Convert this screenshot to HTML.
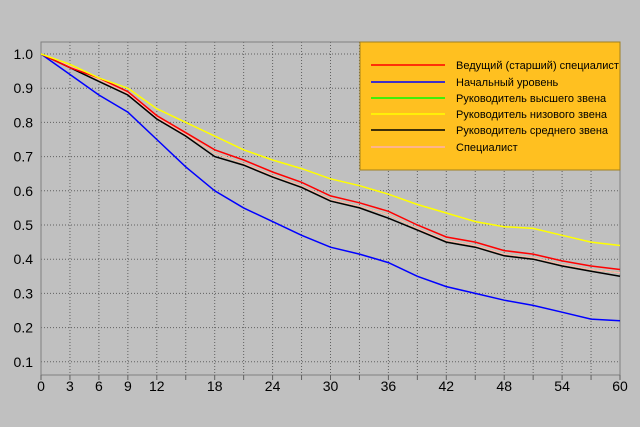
<!DOCTYPE html>
<html><head><meta charset="utf-8"><style>
body{margin:0;background:#c0c0c0;}
svg{display:block;font-family:"Liberation Sans",sans-serif;}
</style></head><body>
<svg id="chart" width="640" height="427" viewBox="0 0 640 427">
<rect x="0" y="0" width="640" height="427" fill="#c0c0c0"/>
<g id="grid"></g>
<g id="axes"></g>
<g id="series"></g>
<g id="legend"></g>
</svg>
<script>
const months=[0,3,6,9,12,15,18,21,24,27,30,33,36,39,42,45,48,51,54,57,60];
const xTickLabels=[0,3,6,9,12,18,24,30,36,42,48,54,60];
const yTickLabels=[0.1,0.2,0.3,0.4,0.5,0.6,0.7,0.8,0.9,1.0];
const seriesNames=["Ведущий (старший) специалист","Начальный уровень","Руководитель высшего звена","Руководитель низового звена","Руководитель среднего звена","Специалист"];
const seriesColors=["#ff0000","#0000ff","#00ff00","#ffff00","#000000","#ffb0b0"];
const senior=[1,0.96,0.93,0.89,0.82,0.77,0.72,0.69,0.655,0.625,0.585,0.565,0.54,0.5,0.465,0.45,0.425,0.415,0.395,0.38,0.37];
const entry=[1,0.94,0.88,0.83,0.75,0.67,0.6,0.55,0.51,0.47,0.435,0.415,0.39,0.35,0.32,0.3,0.28,0.265,0.245,0.225,0.22];
const topMgr=[1,0.965,0.925,0.885,0.815,0.765,0.71,0.68,0.645,0.615,0.575,0.555,0.53,0.49,0.455,0.44,0.415,0.405,0.385,0.37,0.36];
const lowMgr=[1,0.97,0.93,0.9,0.84,0.8,0.76,0.72,0.69,0.665,0.635,0.615,0.59,0.56,0.535,0.51,0.495,0.49,0.47,0.45,0.44];
const middleMgr=[1,0.96,0.92,0.88,0.81,0.76,0.7,0.675,0.64,0.61,0.57,0.55,0.52,0.485,0.45,0.435,0.41,0.4,0.38,0.365,0.35];
const specialist=[1,0.965,0.925,0.885,0.815,0.765,0.71,0.68,0.645,0.615,0.575,0.555,0.53,0.49,0.455,0.44,0.415,0.405,0.385,0.37,0.36];
const seriesData=[senior,entry,topMgr,lowMgr,middleMgr,specialist];
const drawOrder=[2,1,5,4,0,3];

const NS="http://www.w3.org/2000/svg";
const X0=41,X1=620,Y0=42,Y1=375;
const xs=m=>X0+(m/60)*(X1-X0);
const ys=v=>54+(1-v)*342;
function mk(tag,attrs,parent){const e=document.createElementNS(NS,tag);for(const k in attrs)e.setAttribute(k,attrs[k]);parent.appendChild(e);return e;}
const grid=document.getElementById('grid'),axes=document.getElementById('axes'),ser=document.getElementById('series'),leg=document.getElementById('legend');
for(let m=3;m<=57;m+=3){const l=mk('line',{x1:xs(m),x2:xs(m),y1:Y0,y2:Y1,stroke:'#606060','stroke-dasharray':'1,2','stroke-width':1},grid);

}
yTickLabels.forEach(v=>{const l=mk('line',{x1:X0,x2:X1,y1:ys(v),y2:ys(v),stroke:'#606060','stroke-dasharray':'1,2','stroke-width':1},grid);


const t=mk('text',{x:X0-8,y:ys(v)+5,'text-anchor':'end','font-size':14,fill:'#000'},axes);t.textContent=v.toFixed(1);

});
const b=mk('path',{d:`M${X0},${Y0}H${X1}V${Y1}H${X0}Z`,fill:'none',stroke:'#808080','stroke-width':1},axes);


for(let m=0;m<=60;m+=3){const l=mk('line',{x1:xs(m),x2:xs(m),y1:Y1,y2:Y1+5,stroke:'#606060'},axes);

}
xTickLabels.forEach(m=>{const t=mk('text',{x:xs(m),y:391,'text-anchor':'middle','font-size':14,fill:'#000'},axes);t.textContent=m;

});
drawOrder.forEach(i=>{let d='';seriesData[i].forEach((v,k)=>{d+=(k?'L':'M')+xs(months[k]).toFixed(1)+','+ys(v).toFixed(1);});
const p=mk('path',{d:d,fill:'none',stroke:seriesColors[i],'stroke-width':1.5},ser);

});
const box=mk('rect',{x:360,y:42,width:260,height:128,fill:'#ffc020',stroke:'#a08020'},leg);


const ly=[65,82,98,114,130,147];
seriesNames.forEach((n,i)=>{const l=mk('line',{x1:371,x2:445,y1:ly[i],y2:ly[i],stroke:seriesColors[i],'stroke-width':1.5},leg);


const t=mk('text',{x:456,y:ly[i]+4,'font-size':11,fill:'#000'},leg);t.textContent=n;

});
</script>
</body></html>
